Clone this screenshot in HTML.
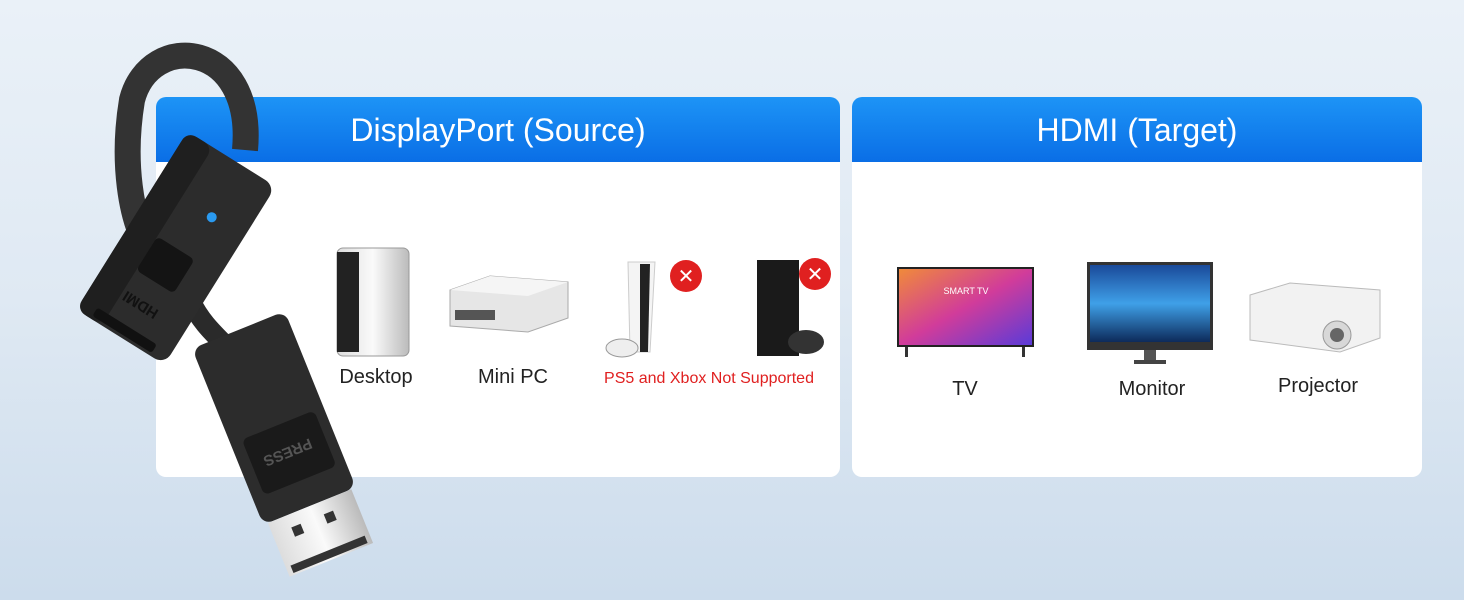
<!DOCTYPE html>
<html><head><meta charset="utf-8"><style>
body{margin:0;width:1464px;height:600px;overflow:hidden;background:linear-gradient(180deg,#eaf1f8 0%,#dfe9f3 50%,#ccdcec 100%);font-family:"Liberation Sans",sans-serif;position:relative}
.panel{position:absolute;top:97px;height:380px;background:#fff;border-radius:10px;overflow:hidden}
.hd{height:65px;background:linear-gradient(180deg,#1d94f6,#0a6ee6);color:#fff;font-size:32px;text-align:center;line-height:66px}
.lbl{position:absolute;font-size:20px;color:#222;transform:translateX(-50%);white-space:nowrap}
svg{position:absolute;left:0;top:0}
</style></head><body>
<div class="panel" style="left:156px;width:684px"><div class="hd">DisplayPort (Source)</div></div>
<div class="panel" style="left:852px;width:570px"><div class="hd">HDMI (Target)</div></div>
<div class="lbl" style="left:376px;top:366px">Desktop</div>
<div class="lbl" style="left:513px;top:366px">Mini PC</div>
<div class="lbl" style="left:709px;top:370px;font-size:16px;color:#e02020">PS5 and Xbox Not Supported</div>
<div class="lbl" style="left:965px;top:378px">TV</div>
<div class="lbl" style="left:1152px;top:378px">Monitor</div>
<div class="lbl" style="left:1318px;top:375px">Projector</div>
<svg width="1464" height="600">
<defs>
<linearGradient id="tv" x1="0" y1="0" x2="1" y2="1"><stop offset="0" stop-color="#f08a3a"/><stop offset=".5" stop-color="#d13c9a"/><stop offset="1" stop-color="#5a3bd8"/></linearGradient>
<linearGradient id="mon" x1="0" y1="0" x2="0" y2="1"><stop offset="0" stop-color="#1a4a9a"/><stop offset=".5" stop-color="#3fa0e8"/><stop offset="1" stop-color="#0d2a5a"/></linearGradient>
<linearGradient id="sil" x1="0" y1="0" x2="1" y2="0"><stop offset="0" stop-color="#ddd"/><stop offset=".5" stop-color="#fafafa"/><stop offset="1" stop-color="#bbb"/></linearGradient>
</defs>
<!-- desktop -->
<rect x="337" y="248" width="72" height="108" rx="6" fill="url(#sil)" stroke="#999"/>
<rect x="337" y="252" width="22" height="100" fill="#222"/>
<!-- mini pc -->
<path d="M450 290 L490 276 L568 282 L568 318 L528 332 L450 326Z" fill="#e6e6e6" stroke="#aaa"/>
<path d="M450 290 L528 296 L568 282 L490 276Z" fill="#f5f5f5"/>
<rect x="455" y="310" width="40" height="10" fill="#555"/>
<!-- ps5 -->
<path d="M628 262 L655 262 L650 352 L630 352Z" fill="#f4f4f4" stroke="#ccc"/>
<path d="M640 264 L650 264 L648 352 L640 352Z" fill="#222"/>
<ellipse cx="622" cy="348" rx="16" ry="9" fill="#eee" stroke="#999"/>
<circle cx="686" cy="276" r="16" fill="#e02020"/><text x="686" y="283" fill="#fff" font-size="20" text-anchor="middle" font-family="Liberation Sans">✕</text>
<!-- xbox -->
<rect x="757" y="260" width="42" height="96" fill="#1a1a1a"/>
<ellipse cx="806" cy="342" rx="18" ry="12" fill="#333"/>
<circle cx="815" cy="274" r="16" fill="#e02020"/><text x="815" y="281" fill="#fff" font-size="20" text-anchor="middle" font-family="Liberation Sans">✕</text>
<!-- tv -->
<rect x="897" y="267" width="137" height="80" fill="#222"/>
<rect x="899" y="269" width="133" height="76" fill="url(#tv)"/>
<text x="966" y="294" fill="#fff" font-size="9" text-anchor="middle" font-family="Liberation Sans">SMART TV</text>
<rect x="905" y="347" width="3" height="10" fill="#333"/><rect x="1022" y="347" width="3" height="10" fill="#333"/>
<!-- monitor -->
<rect x="1087" y="262" width="126" height="88" fill="#333"/>
<rect x="1090" y="265" width="120" height="77" fill="url(#mon)"/>
<rect x="1144" y="350" width="12" height="12" fill="#555"/><rect x="1134" y="360" width="32" height="4" fill="#444"/>
<!-- projector -->
<path d="M1250 295 L1290 283 L1380 290 L1380 338 L1340 352 L1250 340Z" fill="#f2f2f2" stroke="#bbb"/>
<circle cx="1337" cy="335" r="14" fill="#d8d8d8" stroke="#999"/><circle cx="1337" cy="335" r="7" fill="#666"/>
<!-- adapter cable -->
<path d="M245 150 C255 40 150 30 132 100 C122 160 130 220 150 250" fill="none" stroke="#333" stroke-width="26"/>
<path d="M190 300 C200 320 210 330 225 345" fill="none" stroke="#2a2a2a" stroke-width="20"/>
<!-- HDMI housing -->
<g transform="translate(176,248) rotate(32)">
<rect x="-52" y="-105" width="104" height="210" rx="12" fill="#2c2c2c"/>
<rect x="-52" y="-105" width="30" height="210" rx="10" fill="#1f1f1f"/>
<circle cx="14" cy="-45" r="5" fill="#2a9af0"/>
<rect x="-22" y="0" width="44" height="40" rx="5" fill="#141414"/>
<text x="0" y="72" fill="#111" font-size="15" font-weight="bold" text-anchor="middle" transform="rotate(180 0 67)">HDMI</text>
<rect x="-35" y="92" width="70" height="10" rx="3" fill="#111"/>
</g>
<!-- DP plug -->
<g transform="translate(274,418) rotate(-22)">
<rect x="-50" y="-95" width="100" height="190" rx="10" fill="#2c2c2c"/>
<rect x="-38" y="8" width="78" height="60" rx="6" fill="#1a1a1a"/>
<text x="0" y="42" fill="#555" font-size="15" font-weight="bold" text-anchor="middle" transform="rotate(180 0 37)">PRESS</text>
<rect x="-45" y="95" width="90" height="58" fill="url(#sil)"/>
<rect x="-25" y="108" width="10" height="10" fill="#333"/><rect x="10" y="108" width="10" height="10" fill="#333"/>
<rect x="-40" y="143" width="80" height="8" fill="#333"/>
</g>
</svg>
</body></html>
